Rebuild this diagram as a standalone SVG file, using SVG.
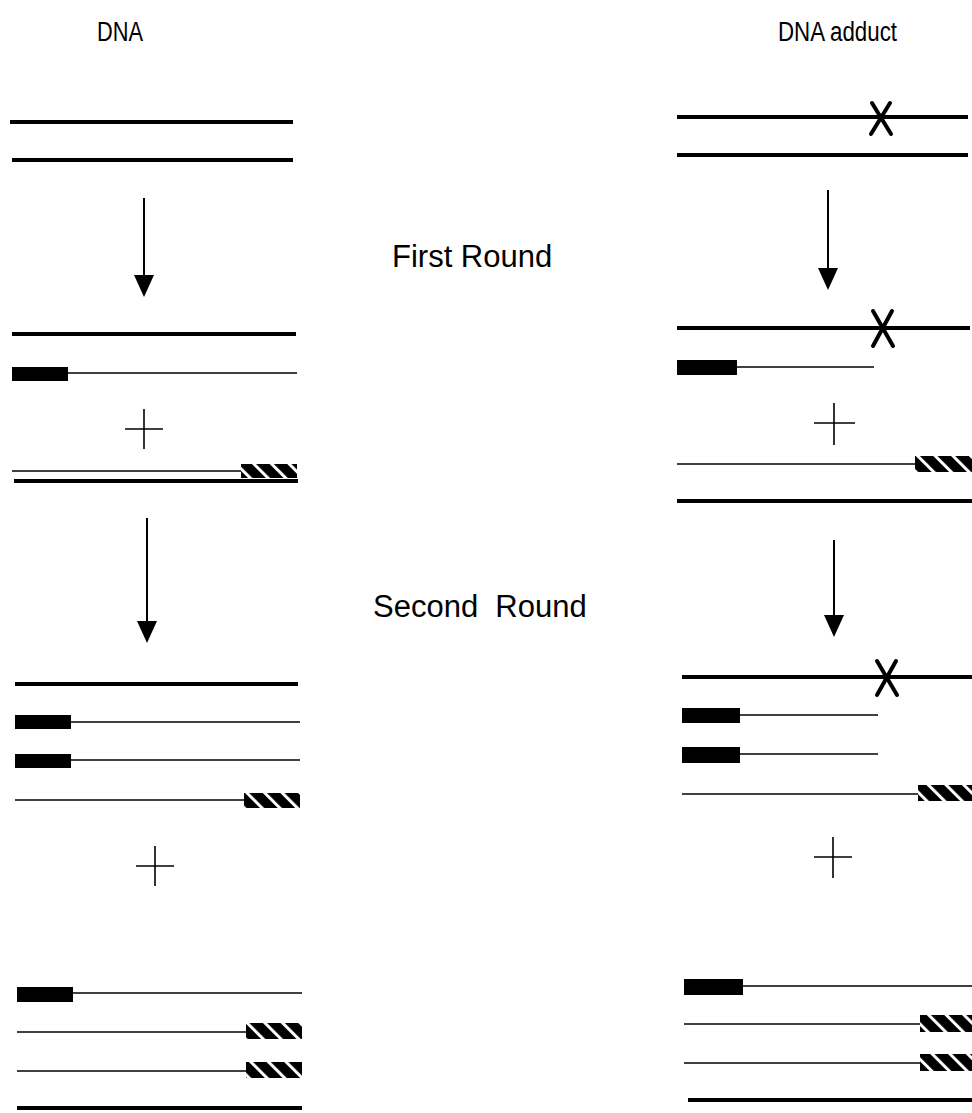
<svg xmlns="http://www.w3.org/2000/svg" width="972" height="1113" viewBox="0 0 972 1113">
<style>
.thick{stroke:#000;stroke-width:4;fill:none}
.thin{stroke:#000;stroke-width:1.5;fill:none}
.plus{stroke:#000;stroke-width:1.6;fill:none}
.xm{stroke:#000;stroke-width:4;fill:none;stroke-linecap:round}
.arr{stroke:#000;stroke-width:2;fill:none}
.primer{fill:#000}
.hatch{fill:url(#stripes)}
text{font-family:"Liberation Sans",Arial,sans-serif;fill:#000}
.big{font-size:31px}
.head{font-size:27px}
</style>
<defs>
<pattern id="stripes" patternUnits="userSpaceOnUse" width="12.5" height="12.5" patternTransform="rotate(-45)">
<rect width="12.5" height="12.5" fill="#000"/>
<rect x="0" y="0" width="3" height="12.5" fill="#fff"/>
</pattern>
</defs>
<rect width="972" height="1113" fill="#fff"/>

<g id="labels">
<text class="head" x="97" y="41" textLength="46" lengthAdjust="spacingAndGlyphs">DNA</text>
<text class="head" x="778" y="41" textLength="119" lengthAdjust="spacingAndGlyphs">DNA adduct</text>
<text class="big" x="392" y="267">First Round</text>
<text class="big" x="373" y="617" xml:space="preserve">Second  Round</text>
</g>

<g id="connectors">
<line class="arr" x1="144" y1="198" x2="144" y2="277"/><path d="M134,275 L154,275 L144,297 Z"/>
<line class="arr" x1="147" y1="518" x2="147" y2="623"/><path d="M137,621 L157,621 L147,643 Z"/>
<line class="arr" x1="828" y1="190" x2="828" y2="270"/><path d="M818,268 L838,268 L828,290 Z"/>
<line class="arr" x1="834" y1="540" x2="834" y2="617"/><path d="M824,615 L844,615 L834,637 Z"/>
</g>

<g id="left-start">
<line class="thick" x1="10" y1="122" x2="293" y2="122"/>
<line class="thick" x1="12" y1="160" x2="293" y2="160"/>
</g>

<g id="left-round1">
<line class="thick" x1="12" y1="334" x2="296" y2="334"/>
<rect class="primer" x="12" y="367" width="56" height="14"/>
<line class="thin" x1="68" y1="373" x2="297" y2="373"/>
<path class="plus" d="M125,429 H163 M144,409 V449"/>
<line class="thin" x1="12" y1="471" x2="241" y2="471"/>
<rect class="hatch" x="241" y="464" width="56" height="14"/>
<line class="thick" x1="14" y1="481" x2="298" y2="481"/>
</g>

<g id="left-round2">
<line class="thick" x1="15" y1="684" x2="298" y2="684"/>
<rect class="primer" x="15" y="715" width="56" height="14"/>
<line class="thin" x1="71" y1="722" x2="300" y2="722"/>
<rect class="primer" x="15" y="754" width="56" height="14"/>
<line class="thin" x1="71" y1="760" x2="300" y2="760"/>
<line class="thin" x1="15" y1="800" x2="244" y2="800"/>
<rect class="hatch" x="244" y="793" width="56" height="15"/>
<path class="plus" d="M136,866 H174 M155,846 V886"/>
<rect class="primer" x="17" y="987" width="56" height="15"/>
<line class="thin" x1="73" y1="993" x2="302" y2="993"/>
<line class="thin" x1="17" y1="1032" x2="246" y2="1032"/>
<rect class="hatch" x="246" y="1023" width="56" height="16"/>
<line class="thin" x1="17" y1="1071" x2="246" y2="1071"/>
<rect class="hatch" x="246" y="1062" width="56" height="16"/>
<line class="thick" x1="17" y1="1108" x2="302" y2="1108"/>
</g>

<g id="right-start">
<line class="thick" x1="677" y1="117" x2="968" y2="117"/>
<path class="xm" d="M872,103 L891,134 M890,103 L871,134"/>
<line class="thick" x1="677" y1="155" x2="968" y2="155"/>
</g>

<g id="right-round1">
<line class="thick" x1="677" y1="328" x2="970" y2="328"/>
<path class="xm" d="M873,311 L893,346 M892,311 L873,346"/>
<rect class="primer" x="677" y="360" width="60" height="15"/>
<line class="thin" x1="737" y1="367" x2="874" y2="367"/>
<path class="plus" d="M814,423 H855 M834,403 V445"/>
<line class="thin" x1="677" y1="464" x2="915" y2="464"/>
<rect class="hatch" x="915" y="456" width="57" height="16"/>
<line class="thick" x1="677" y1="501" x2="972" y2="501"/>
</g>

<g id="right-round2">
<line class="thick" x1="682" y1="677" x2="972" y2="677"/>
<path class="xm" d="M877,661 L897,695 M896,661 L877,695"/>
<rect class="primer" x="682" y="708" width="58" height="15"/>
<line class="thin" x1="740" y1="715" x2="878" y2="715"/>
<rect class="primer" x="682" y="747" width="58" height="16"/>
<line class="thin" x1="740" y1="754" x2="878" y2="754"/>
<line class="thin" x1="682" y1="794" x2="918" y2="794"/>
<rect class="hatch" x="918" y="785" width="54" height="16"/>
<path class="plus" d="M814,857 H852 M833,837 V878"/>
<rect class="primer" x="684" y="979" width="59" height="16"/>
<line class="thin" x1="743" y1="986" x2="972" y2="986"/>
<line class="thin" x1="684" y1="1024" x2="920" y2="1024"/>
<rect class="hatch" x="920" y="1015" width="52" height="17"/>
<line class="thin" x1="684" y1="1063" x2="920" y2="1063"/>
<rect class="hatch" x="920" y="1054" width="52" height="17"/>
<line class="thick" x1="688" y1="1100" x2="972" y2="1100"/>
</g>
</svg>
